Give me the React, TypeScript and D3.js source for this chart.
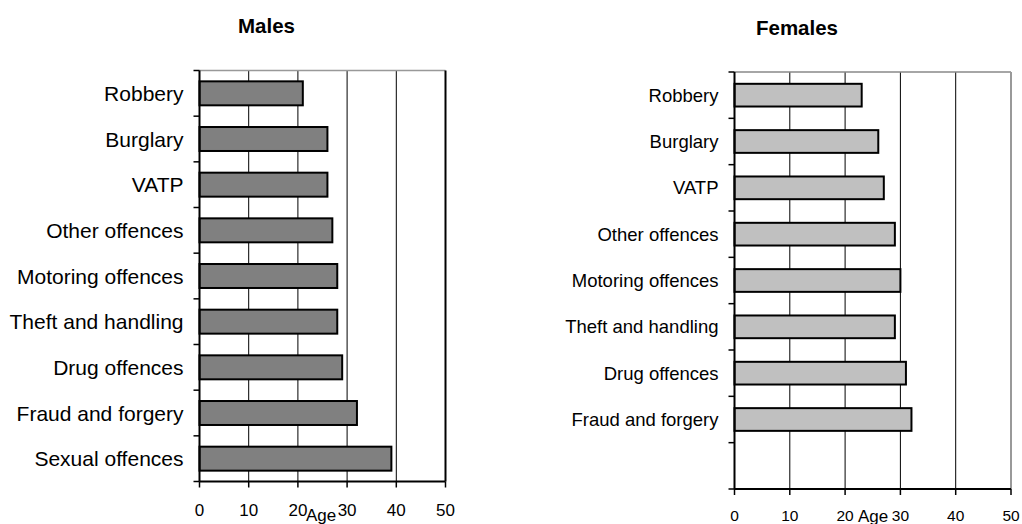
import React from "react";
import * as d3 from "d3";

const maleCategories = [
  "Robbery",
  "Burglary",
  "VATP",
  "Other offences",
  "Motoring offences",
  "Theft and handling",
  "Drug offences",
  "Fraud and forgery",
  "Sexual offences",
];
const maleValues = [21, 26, 26, 27, 28, 28, 29, 32, 39];

const femaleCategories = [
  "Robbery",
  "Burglary",
  "VATP",
  "Other offences",
  "Motoring offences",
  "Theft and handling",
  "Drug offences",
  "Fraud and forgery",
  "",
];
const femaleValues = [23, 26, 27, 29, 30, 29, 31, 32, null];

const xTicks = [0, 10, 20, 30, 40, 50];
const axisTitle = "Age";

type PanelProps = {
  title: string;
  cats: string[];
  vals: (number | null)[];
  x0: number;
  x1: number;
  y0: number;
  y1: number;
  fill: string;
  barFrac: number;
  labelSize: number;
  tickSize: number;
  titleSize: number;
  titleX: number;
  titleY: number;
  tickY: number;
  ageX: number;
  ageY: number;
  frameColor: string;
  rightColor: string;
};

function Panel(p: PanelProps) {
  const x = d3.scaleLinear().domain([0, 50]).range([p.x0, p.x1]);
  const y = d3
    .scaleBand<number>()
    .domain(d3.range(p.cats.length))
    .range([p.y0, p.y1])
    .paddingInner(0)
    .paddingOuter(0);
  const bw = y.bandwidth();
  const bh = bw * p.barFrac;
  const font = "Liberation Sans, Arial, sans-serif";
  return (
    <g>
      <text
        x={p.titleX}
        y={p.titleY}
        textAnchor="middle"
        fontFamily={font}
        fontWeight="bold"
        fontSize={p.titleSize}
      >
        {p.title}
      </text>
      {xTicks.slice(1, -1).map((t) => (
        <line key={t} x1={x(t)} x2={x(t)} y1={p.y0} y2={p.y1} stroke="#000" strokeWidth={1} />
      ))}
      <line x1={p.x0} x2={p.x1} y1={p.y0} y2={p.y0} stroke={p.frameColor} strokeWidth={1.5} />
      <line x1={p.x1} x2={p.x1} y1={p.y0} y2={p.y1} stroke={p.rightColor} strokeWidth={2} />
      {p.vals.map((v, i) =>
        v == null ? null : (
          <rect
            key={i}
            x={x(0)}
            y={(y(i) as number) + (bw - bh) / 2}
            width={x(v) - x(0)}
            height={bh}
            fill={p.fill}
            stroke="#000"
            strokeWidth={2}
          />
        )
      )}
      <line x1={p.x0} x2={p.x0} y1={p.y0} y2={p.y1} stroke="#000" strokeWidth={2} />
      {d3.range(p.cats.length + 1).map((i) => {
        const yy = p.y0 + i * bw;
        return <line key={i} x1={p.x0 - 6} x2={p.x0} y1={yy} y2={yy} stroke="#000" strokeWidth={1.5} />;
      })}
      {p.cats.map((c, i) => (
        <text
          key={i}
          x={p.x0 - 16}
          y={(y(i) as number) + bw / 2 + p.labelSize * 0.36}
          textAnchor="end"
          fontFamily={font}
          fontSize={p.labelSize}
        >
          {c}
        </text>
      ))}
      <line x1={p.x0} x2={p.x1} y1={p.y1} y2={p.y1} stroke="#000" strokeWidth={2} />
      {xTicks.map((t) => (
        <g key={t}>
          <line x1={x(t)} x2={x(t)} y1={p.y1} y2={p.y1 + 6} stroke="#000" strokeWidth={1.5} />
          <text x={x(t)} y={p.tickY} textAnchor="middle" fontFamily={font} fontSize={p.tickSize}>
            {t}
          </text>
        </g>
      ))}
      <text x={p.ageX} y={p.ageY} textAnchor="middle" fontFamily={font} fontSize={17}>
        {axisTitle}
      </text>
    </g>
  );
}

export default function App() {
  return (
    <svg
      width={1022}
      height={524}
      style={{ position: "absolute", left: 0, top: 0, background: "#fff" }}
    >
      <rect width={1022} height={524} fill="#fff" />
      <Panel
        title="Males"
        cats={maleCategories}
        vals={maleValues}
        x0={199.5}
        x1={445.5}
        y0={70.5}
        y1={481.5}
        fill="#808080"
        barFrac={0.525}
        labelSize={21}
        tickSize={17}
        titleSize={20.5}
        titleX={266.5}
        titleY={33}
        tickY={516}
        ageX={321}
        ageY={521}
        frameColor="#999"
        rightColor="#000"
      />
      <Panel
        title="Females"
        cats={femaleCategories}
        vals={femaleValues}
        x0={734.5}
        x1={1011}
        y0={72}
        y1={489}
        fill="#c0c0c0"
        barFrac={0.49}
        labelSize={18.5}
        tickSize={15.5}
        titleSize={20.5}
        titleX={797}
        titleY={35}
        tickY={521}
        ageX={873}
        ageY={522}
        frameColor="#888"
        rightColor="#999"
      />
    </svg>
  );
}
